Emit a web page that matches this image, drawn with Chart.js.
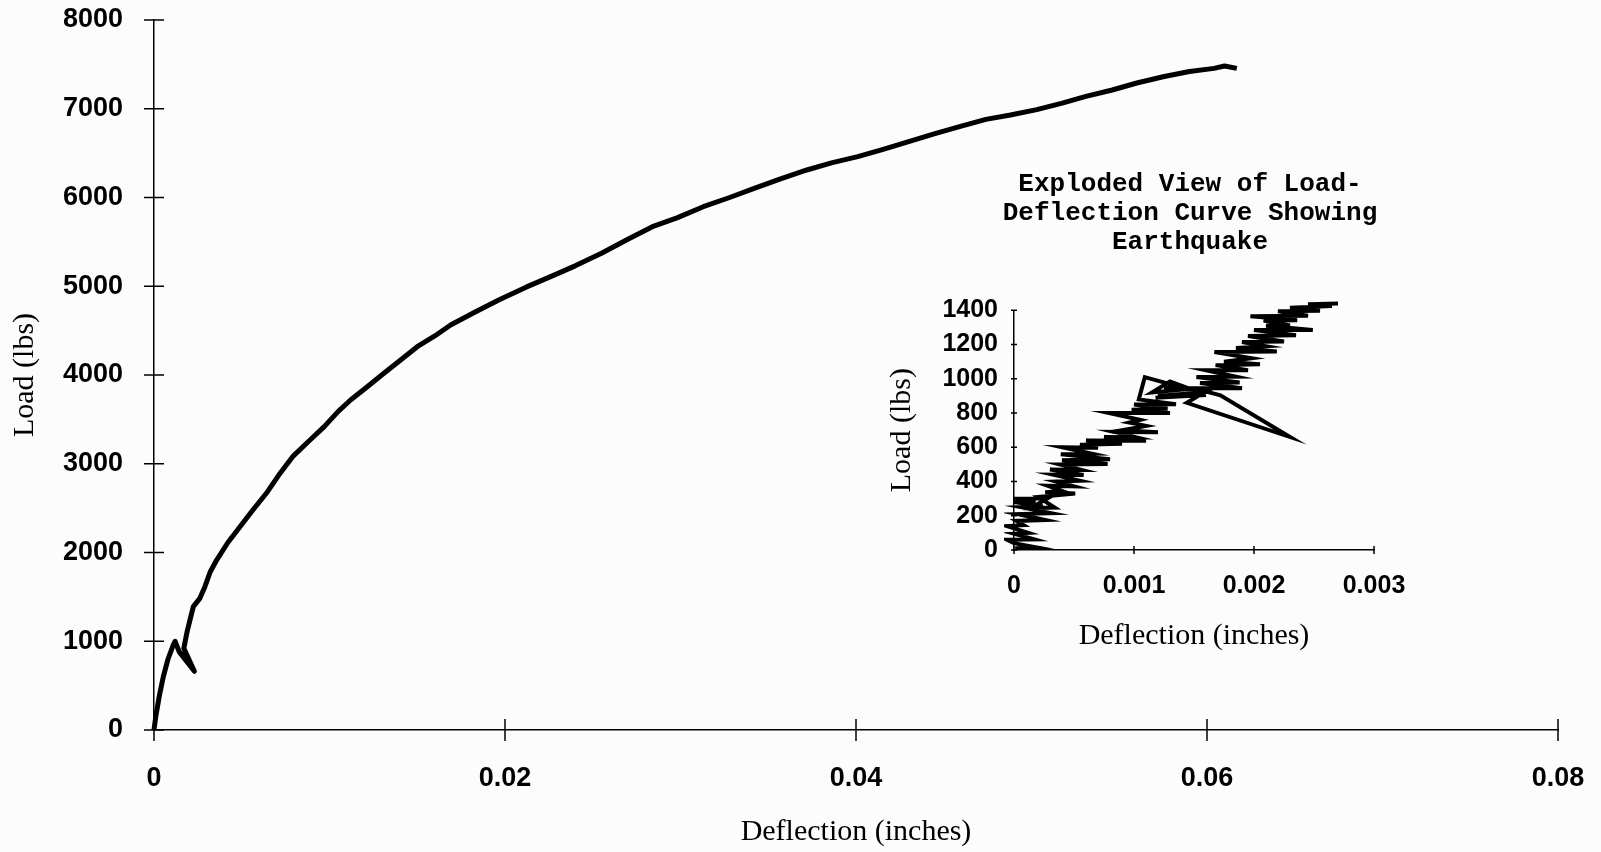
<!DOCTYPE html>
<html>
<head>
<meta charset="utf-8">
<script src="https://cdn.jsdelivr.net/npm/chart.js@4.4.0/dist/chart.umd.min.js"></script>
<style>
  body { margin: 0; background: #fcfcfc; }
  #wrap { position: relative; width: 1601px; height: 852px; }
  canvas { position: absolute; }
</style>
</head>
<body>
<div id="wrap">
  <canvas id="mainChart" width="1601" height="852" style="left:0;top:0"></canvas>
  <canvas id="insetChart" width="620" height="510" style="left:880px;top:150px"></canvas>
</div>
<script>
// main load-deflection curve (inches, lbs)
var mainDefl = [0, 0.0001, 0.0003, 0.00053, 0.0008, 0.0011, 0.0012, 0.00144, 0.0023, 0.0017,
    0.0019, 0.00224, 0.0026, 0.0029, 0.0032, 0.00357, 0.0042, 0.0049, 0.0056, 0.0064,
    0.0071, 0.0079, 0.0088, 0.0097, 0.0105, 0.0112, 0.0121, 0.0131, 0.0140, 0.0150,
    0.0160, 0.0169, 0.0183, 0.0197, 0.0212, 0.0226, 0.0240, 0.0255, 0.0270, 0.0284,
    0.0298, 0.0313, 0.0328, 0.0342, 0.0357, 0.0372, 0.0386, 0.0401, 0.0415, 0.0430,
    0.0445, 0.0459, 0.0474, 0.0488, 0.0503, 0.0517, 0.0531, 0.0546, 0.0560, 0.0575,
    0.0590, 0.0604, 0.0610, 0.0617];
var mainLoad = [0, 150, 380, 600, 800, 960, 1000, 880, 661, 920,
    1120, 1390, 1480, 1615, 1780, 1915, 2110, 2290, 2470, 2667,
    2870, 3080, 3250, 3418, 3590, 3718, 3860, 4019, 4160, 4319,
    4440, 4563, 4710, 4850, 4990, 5108, 5230, 5371, 5530, 5671,
    5770, 5896, 6000, 6103, 6210, 6310, 6390, 6460, 6540, 6629,
    6720, 6798, 6880, 6929, 6990, 7061, 7140, 7211, 7290, 7361,
    7420, 7455, 7482, 7455];

// exploded view of the start of the curve (earthquake)
var insetDefl = [0.00001, 0.00019, 0.0, -0.00006, 0.00017, 0.0, 0.00012, -0.00006, 0.00008, 0.00002,
    0.00026, 0.00003, 0.00031, 0.00006, 0.00024, 0.0, 0.00018, 0.0, 0.00028, 0.00014,
    0.00034, 0.0002, 0.00051, 0.00026, 0.0004, 0.00028, 0.0005, 0.00035, 0.00055, 0.00033,
    0.00058, 0.0003, 0.00056, 0.00038, 0.00078, 0.0004, 0.0008, 0.00039, 0.00065, 0.0004,
    0.0007, 0.00055, 0.0009, 0.0006, 0.0011, 0.00075, 0.00102, 0.00083, 0.0012, 0.0009,
    0.0011, 0.00096, 0.00105, 0.00079, 0.0013, 0.00098, 0.00128, 0.001, 0.00135, 0.00104,
    0.00109, 0.00145, 0.00115, 0.0013, 0.00155, 0.0012, 0.0016, 0.00118, 0.00165, 0.00125,
    0.00162, 0.00144, 0.0023, 0.00172, 0.0015, 0.0019, 0.00155, 0.00188, 0.00152, 0.00185,
    0.0016, 0.00195, 0.00168, 0.00205, 0.00175, 0.00198, 0.00167, 0.00219, 0.00185, 0.0021,
    0.0019, 0.00225, 0.00195, 0.00235, 0.002, 0.00249, 0.0021, 0.0023, 0.00208, 0.00236,
    0.00197, 0.00245, 0.0022, 0.00255, 0.0023, 0.00265, 0.00245, 0.0027];
var insetLoad = [10, 15, 40, 60, 62, 95, 100, 140, 145, 170,
    175, 210, 215, 250, 255, 280, 285, 300, 302, 245,
    248, 310, 330, 338, 345, 375, 372, 400, 405, 440,
    438, 470, 468, 500, 502, 525, 530, 560, 562, 600,
    598, 615, 620, 640, 638, 660, 658, 690, 688, 700,
    725, 745, 760, 800, 800, 820, 825, 850, 852, 880,
    1010, 940, 920, 985, 920, 900, 905, 890, 930, 950,
    935, 860, 660, 904, 945, 945, 975, 978, 1010, 1012,
    1050, 1050, 1080, 1085, 1100, 1120, 1157, 1160, 1180, 1190,
    1215, 1218, 1250, 1255, 1285, 1285, 1310, 1312, 1340, 1342,
    1365, 1368, 1395, 1398, 1415, 1425, 1435, 1440];

var insetTitle = ["Exploded View of Load-", "Deflection Curve Showing", "Earthquake"];

function toPoints(xs, ys) {
    var pts = [];
    for (var i = 0; i < xs.length; i++) {
        pts.push({ x: xs[i], y: ys[i] });
    }
    return pts;
}

function fmt(v) {
    return String(Number(v.toFixed(4)));
}

// tick marks crossing the axis line, both halves
var crossTicks = {
    id: 'crossTicks',
    afterDraw: function(chart, args, opts) {
        var ctx = chart.ctx;
        var xs = chart.scales.x, ys = chart.scales.y;
        ctx.save();
        ctx.strokeStyle = '#000';
        ctx.lineWidth = opts.width;
        ctx.beginPath();
        xs.ticks.forEach(function(t, i) {
            var px = xs.getPixelForTick(i);
            ctx.moveTo(px, xs.top - opts.xLen);
            ctx.lineTo(px, xs.top + opts.xLen);
        });
        ys.ticks.forEach(function(t, i) {
            var py = ys.getPixelForTick(i);
            ctx.moveTo(ys.right - opts.yLen, py);
            ctx.lineTo(ys.right + opts.yLen, py);
        });
        ctx.stroke();
        ctx.restore();
    }
};

// gap = distance from axis line to the tick labels
function axis(o) {
    return {
        type: 'linear',
        min: o.min,
        max: o.max,
        afterFit: o.fit,
        border: { display: true, color: '#000', width: 1.5 },
        grid: { drawOnChartArea: false, drawTicks: true, tickLength: o.gap, color: 'rgba(0,0,0,0)' },
        ticks: {
            stepSize: o.step,
            autoSkip: false,
            maxRotation: 0,
            padding: 0,
            color: '#000',
            font: { family: 'Liberation Sans', weight: 'bold', size: o.fontSize },
            callback: fmt
        },
        title: {
            display: true,
            text: o.title,
            color: '#000',
            font: { family: 'Liberation Serif', size: 30, lineHeight: 1.2 },
            padding: o.titlePad
        }
    };
}

function drawMain() {
    var grapharea = document.getElementById('mainChart');
    new Chart(grapharea, {
        type: 'scatter',
        data: {
            datasets: [{
                data: toPoints(mainDefl, mainLoad),
                showLine: true,
                borderColor: '#000',
                borderWidth: 5,
                borderJoinStyle: 'round',
                pointRadius: 0,
                clip: 6
            }]
        },
        options: {
            responsive: false,
            animation: false,
            devicePixelRatio: 1,
            layout: { padding: { top: 20, right: 43, left: 0, bottom: 0 } },
            plugins: {
                legend: { display: false },
                tooltip: { enabled: false },
                crossTicks: { xLen: 11, yLen: 10, width: 1.5 }
            },
            scales: {
                x: axis({ min: 0, max: 0.08, step: 0.02, gap: 32, fontSize: 27,
                    title: 'Deflection (inches)', titlePad: { top: 0, bottom: 2 },
                    fit: function(s) { s.height = 122; } }),
                y: axis({ min: 0, max: 8000, step: 1000, gap: 31, fontSize: 27,
                    title: 'Load (lbs)', titlePad: { top: 7, bottom: 0 },
                    fit: function(s) { s.width = 154; } })
            }
        },
        plugins: [crossTicks]
    });
}

function drawInset() {
    var grapharea = document.getElementById('insetChart');
    new Chart(grapharea, {
        type: 'scatter',
        data: {
            datasets: [{
                data: toPoints(insetDefl, insetLoad),
                showLine: true,
                borderColor: '#000',
                borderWidth: 4,
                pointRadius: 0,
                clip: 10
            }]
        },
        options: {
            responsive: false,
            animation: false,
            devicePixelRatio: 1,
            layout: { padding: 0 },
            plugins: {
                legend: { display: false },
                tooltip: { enabled: false },
                title: {
                    display: true,
                    text: insetTitle,
                    color: '#000',
                    font: { family: 'Liberation Mono', size: 26, weight: 'bold', lineHeight: 1.12 },
                    padding: { top: 20, bottom: 53 }
                },
                crossTicks: { xLen: 4, yLen: 3, width: 1.5 }
            },
            scales: {
                x: axis({ min: 0, max: 0.003, step: 0.001, gap: 21, fontSize: 25,
                    title: 'Deflection (inches)', titlePad: { top: 0, bottom: 6 },
                    fit: function(s) { s.height = 110; } }),
                y: axis({ min: 0, max: 1400, step: 200, gap: 16, fontSize: 25,
                    title: 'Load (lbs)', titlePad: { top: 4, bottom: 0 },
                    fit: function(s) { s.width = 134; } }),
                // empty right-hand strip so the title centres on the whole inset
                spacer: {
                    type: 'linear',
                    position: 'right',
                    grid: { display: false },
                    border: { display: false },
                    ticks: { display: false },
                    afterFit: function(s) { s.width = 126; }
                }
            }
        },
        plugins: [crossTicks]
    });
}

drawMain();
drawInset();
</script>
</body>
</html>
